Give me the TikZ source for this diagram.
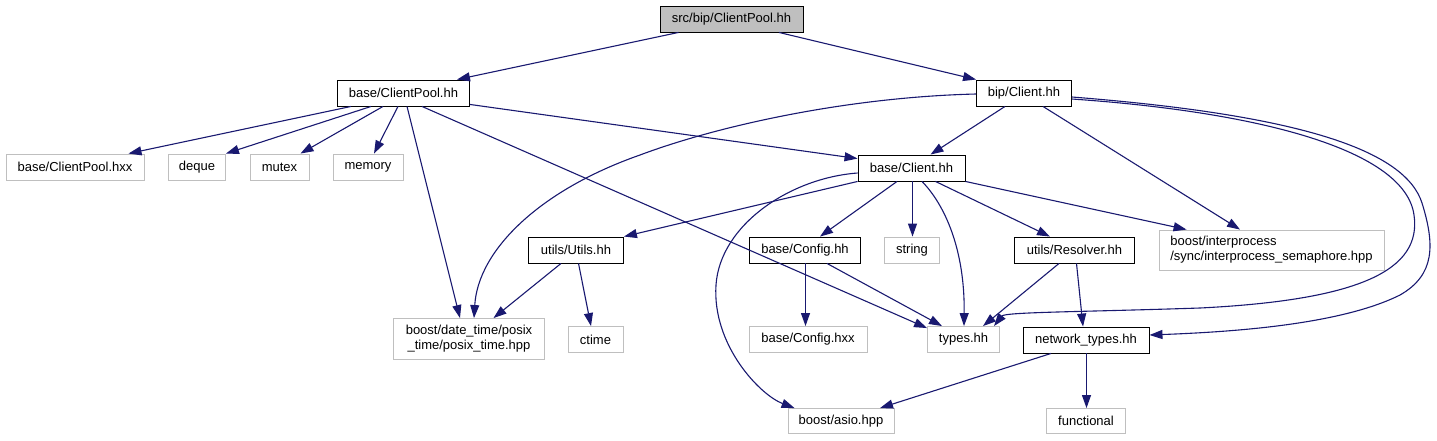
\documentclass[tikz,border=0pt]{standalone}
\usepackage{fontspec}
\setmainfont{Liberation Sans}
\usetikzlibrary{arrows.meta}
\definecolor{edgeblue}{HTML}{191970}
\definecolor{extgray}{HTML}{BFBFBF}
\tikzset{
  box/.style={draw=black, fill=white, line width=0.9pt, inner sep=0pt, font=\fontsize{13}{15}\selectfont, text=black},
  ext/.style={box, draw=extgray},
  dep/.style={draw=edgeblue, line width=1.1pt, -{Triangle[length=13pt,width=9pt]}},
}
\begin{document}
\begin{tikzpicture}[x=1pt,y=-1pt]
\useasboundingbox (0,0) rectangle (1437,440);
% nodes
\node[box, fill=extgray, minimum width=143pt, minimum height=26pt] (src) at (731.5,19) {src/bip/ClientPool.hh};
\node[box, minimum width=132pt, minimum height=26pt] (cph) at (403.5,93) {base/ClientPool.hh};
\node[box, minimum width=95pt, minimum height=26pt] (bipc) at (1024,93) {bip/Client.hh};
\node[ext, minimum width=138pt, minimum height=26pt] (cphxx) at (75,167) {base/ClientPool.hxx};
\node[ext, minimum width=57pt, minimum height=26pt] (deque) at (197,167) {deque};
\node[ext, minimum width=59pt, minimum height=26pt] (mutex) at (279.5,167) {mutex};
\node[ext, minimum width=70pt, minimum height=26pt] (memory) at (368,167) {memory};
\node[box, minimum width=107pt, minimum height=26pt] (bc) at (911.5,168) {base/Client.hh};
\node[box, minimum width=95pt, minimum height=26pt] (utils) at (576,250) {utils/Utils.hh};
\node[box, minimum width=111pt, minimum height=26pt] (config) at (805,250) {base/Config.hh};
\node[ext, minimum width=55pt, minimum height=26pt] (string) at (912,250) {string};
\node[box, minimum width=120pt, minimum height=26pt] (resolver) at (1074.5,250) {utils/Resolver.hh};
\node[ext, minimum width=225pt, minimum height=40pt, align=left] (interp) at (1271.5,250) {boost/interprocess\\/sync/interprocess\_semaphore.hpp};
\node[ext, minimum width=151pt, minimum height=41pt, align=center] (datetime) at (469,339) {boost/date\_time/posix\\\_time/posix\_time.hpp};
\node[ext, minimum width=55pt, minimum height=26pt] (ctime) at (595.5,339.5) {ctime};
\node[ext, minimum width=118pt, minimum height=26pt] (configxx) at (808,339.5) {base/Config.hxx};
\node[ext, minimum width=72pt, minimum height=26pt] (types) at (963.5,339.5) {types.hh};
\node[box, minimum width=126pt, minimum height=26pt] (nettypes) at (1086,340) {network\_types.hh};
\node[ext, minimum width=106pt, minimum height=25pt] (asio) at (841,421) {boost/asio.hpp};
\node[ext, minimum width=79pt, minimum height=25pt] (functional) at (1086,421) {functional};
% edges from src
\draw[dep] ([xshift=-53pt]src.south) -- ([xshift=53.5pt]cph.north);
\draw[dep] ([xshift=47.5pt]src.south) -- (bipc.north west);
% edges from base/ClientPool.hh
\draw[dep] ([xshift=-52.5pt]cph.south) -- ([xshift=53.5pt]cphxx.north);
\draw[dep] ([xshift=-32.5pt]cph.south) -- (deque.north east);
\draw[dep] ([xshift=-20.5pt]cph.south) -- ([xshift=21pt]mutex.north);
\draw[dep] ([xshift=-5.5pt]cph.south) -- ([xshift=6pt]memory.north);
\draw[dep] ([xshift=3.5pt]cph.south) -- ([xshift=-9pt]datetime.north);
\draw[dep] ([xshift=18.5pt]cph.south) -- ([yshift=-2pt]types.north west);
\draw[dep] ([yshift=2pt]cph.south east) -- ([yshift=-4pt]bc.north west);
% edges from bip/Client.hh
\draw[dep] ([yshift=-1pt]bipc.west) .. controls (850,97) and (720,125) .. (640,155)
  .. controls (540,190) and (478,250) .. ([xshift=5pt]datetime.north);
\draw[dep] ([xshift=-19pt]bipc.south) -- ([xshift=19pt]bc.north);
\draw[dep] ([xshift=19pt]bipc.south) -- ([xshift=-31.5pt]interp.north);
\draw[dep] ([yshift=-6pt]bipc.east) .. controls (1260,112) and (1405,150) .. (1414,215)
  .. controls (1422,270) and (1360,300) .. (1200,308)
  .. controls (1080,312) and (1005,312) .. ([xshift=-6pt]types.north east);
\draw[dep] ([yshift=-4pt]bipc.east) .. controls (1300,115) and (1405,150) .. (1422,203)
  .. controls (1435,245) and (1435,275) .. (1400,295)
  .. controls (1340,325) and (1230,332) .. ([yshift=5pt]nettypes.east);
% edges from base/Client.hh
\draw[dep] (bc.south west) -- (utils.north east);
\draw[dep] ([yshift=-5pt]bc.west) .. controls (790,178) and (720,225) .. (716,285)
  .. controls (712,345) and (760,395) .. ([xshift=7pt]asio.north west);
\draw[dep] ([xshift=-14.5pt]bc.south) -- ([xshift=15pt]config.north);
\draw[dep] ([xshift=1pt]bc.south) -- ([xshift=0.5pt]string.north);
\draw[dep] ([xshift=10.5pt]bc.south) .. controls (945,205) and (965,250) .. ([xshift=0.5pt]types.north);
\draw[dep] ([xshift=24pt]bc.south) -- ([xshift=-24.5pt]resolver.north);
\draw[dep] (bc.south east) -- ([xshift=28pt]interp.north west);
% edges from utils/Utils.hh
\draw[dep] ([xshift=-15pt]utils.south) -- ([xshift=24.5pt]datetime.north);
\draw[dep] ([xshift=2.5pt]utils.south) -- ([xshift=-4.5pt]ctime.north);
% edges from base/Config.hh
\draw[dep] ([xshift=0.5pt]config.south) -- ([xshift=-2.5pt]configxx.north);
\draw[dep] ([xshift=22pt]config.south) -- ([xshift=-21.5pt]types.north);
% edges from utils/Resolver.hh
\draw[dep] ([xshift=-15.5pt]resolver.south) -- ([xshift=19.5pt]types.north);
\draw[dep] ([xshift=2pt]resolver.south) -- ([xshift=-3pt]nettypes.north);
% edges from network_types.hh
\draw[dep] ([xshift=-35pt]nettypes.south) -- ([xshift=39pt]asio.north);
\draw[dep] ([xshift=0.5pt]nettypes.south) -- ([xshift=0.5pt]functional.north);
\end{tikzpicture}
\end{document}
